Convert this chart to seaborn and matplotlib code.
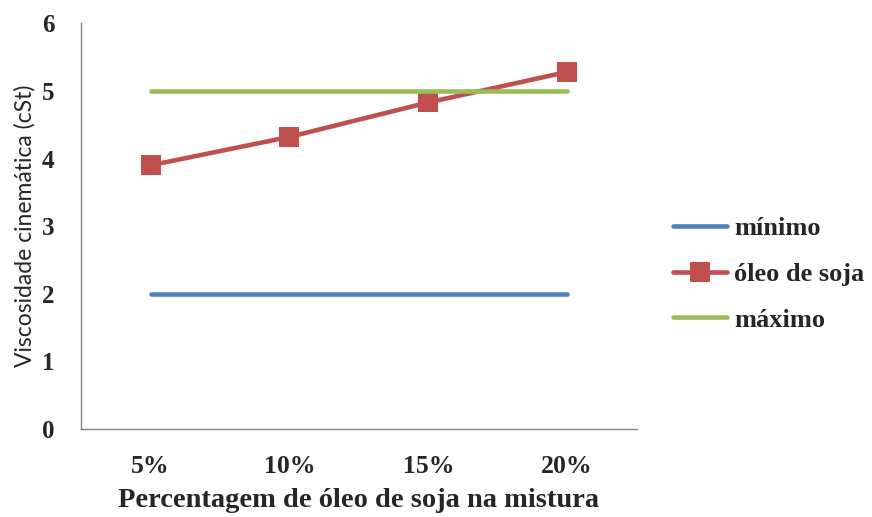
import numpy as np
import pandas as pd
import matplotlib
matplotlib.use("Agg")
import matplotlib.pyplot as plt
import seaborn as sns

# Data
categories = ["5%", "10%", "15%", "20%"]
minimo = [2, 2, 2, 2]
oleo_soja = [3.9, 4.32, 4.83, 5.28]
maximo = [5, 5, 5, 5]
series_names = ["mínimo", "óleo de soja", "máximo"]
y_ticks = [0, 1, 2, 3, 4, 5, 6]

sns.set_theme(style="white")
plt.rcParams["font.family"] = ["Liberation Serif", "DejaVu Serif"]

df = pd.DataFrame({
    "pos": np.tile(np.arange(len(categories)), 3),
    "valor": minimo + oleo_soja + maximo,
    "serie": np.repeat(series_names, len(categories)),
})

colors = {"mínimo": "#4F81BD", "óleo de soja": "#C0504D", "máximo": "#9BBB59"}
markers = {"mínimo": "", "óleo de soja": "s", "máximo": ""}

fig = plt.figure(figsize=(8.72, 5.17), dpi=100)
ax = fig.add_axes([0.093, 0.170, 0.637, 0.785])

handles = []
for name in series_names:
    sub = df[df["serie"] == name]
    sns.lineplot(data=sub, x="pos", y="valor", ax=ax, color=colors[name],
                 linewidth=3.3, marker=markers[name] or None, markersize=14.5,
                 markeredgewidth=0, legend=False, solid_capstyle="round")
    handles.append(ax.lines[-1])

ax.set_xlim(-0.5, len(categories) - 0.5)
ax.set_ylim(0, 6)
ax.set_yticks(y_ticks)
ax.set_yticklabels([str(t) for t in y_ticks], fontsize=18, fontweight="bold")
ax.set_xticks(np.arange(len(categories)))
ax.set_xticklabels(categories, fontsize=18.5, fontweight="bold")
ax.set_xticks(np.arange(len(categories) + 1) - 0.5, minor=True)
ax.tick_params(axis="x", which="major", length=0, pad=19)
ax.tick_params(axis="x", which="minor", length=7, width=1, color="#868686", direction="out")
ax.tick_params(axis="y", length=7, width=1, color="#868686", direction="out", pad=12)

for side in ["top", "right"]:
    ax.spines[side].set_visible(False)
for side in ["left", "bottom"]:
    ax.spines[side].set_color("#868686")
    ax.spines[side].set_linewidth(1)

ax.set_xlabel("Percentagem de óleo de soja na mistura", fontsize=20.5,
              fontweight="bold", labelpad=7)
ax.set_ylabel("Viscosidade cinemática (cSt)", fontsize=16.5,
              family=["Lato", "DejaVu Sans"], labelpad=5)

fig.legend(handles, series_names, loc="center left",
           bbox_to_anchor=(0.772, 0.47), frameon=False,
           borderaxespad=0, borderpad=0,
           prop={"family": "Liberation Serif", "weight": "bold", "size": 19},
           handlelength=2.05, handletextpad=0.25, labelspacing=0.85)

fig.savefig("out.png", dpi=100)
